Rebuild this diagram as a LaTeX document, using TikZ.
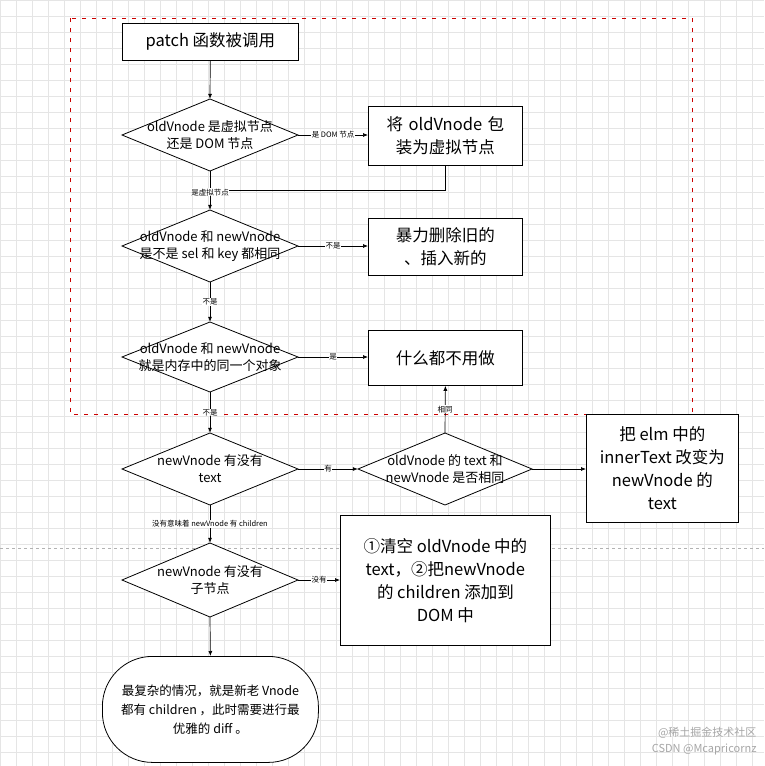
\documentclass[tikz,border=0pt]{standalone}
\usepackage{fontspec}
\setmainfont{Noto Sans CJK SC}
\usetikzlibrary{shapes.geometric,arrows.meta}
\begin{document}
\begin{tikzpicture}[x=1pt,y=-1pt,
 box/.style={draw,line width=0.8pt,fill=white,align=center,inner sep=2pt,font=\fontsize{16.5}{23}\selectfont},
 dia/.style={rectangle,inner sep=0pt,align=center,font=\fontsize{13}{17}\selectfont,
   append after command={\pgfextra{\draw[line width=0.8pt,fill=white] (\tikzlastnode.north)--(\tikzlastnode.east)--(\tikzlastnode.south)--(\tikzlastnode.west)--cycle;}}},
 lab/.style={fill=white,inner sep=0.5pt,font=\fontsize{7.5}{8}\selectfont},
 arr/.style={-{Latex[length=5pt,width=4pt]},line width=0.7pt}]
\useasboundingbox (0,0) rectangle (764,766);
\fill[white] (0,0) rectangle (764,766);
\foreach \i in {0,16,...,764} {\draw[black!10] (\i,0) -- (\i,766); \draw[black!10] (0,\i) -- (764,\i);}
\draw[gray!60,dashed] (0,548) -- (764,548);
\draw[red!80!black,line width=1pt,dash pattern=on 4pt off 6pt] (70,18) rectangle (692,414);
% diamonds (outline drawn first)
\foreach \x/\y/\w/\h in {210/135/176/72, 210/246/176/72, 210/357/176/70, 210/469/176/72, 445/469/174/72, 210/580/176/74}
  \draw[line width=0.8pt,fill=white] (\x,\y-\h/2) -- (\x+\w/2,\y) -- (\x,\y+\h/2) -- (\x-\w/2,\y) -- cycle;
\tikzset{dia/.style={rectangle,inner sep=0pt,align=center,font=\fontsize{13}{17}\selectfont}}
\node[box,minimum width=176,minimum height=37,anchor=north west] (p) at (122,23) {patch 函数被调用};
\node[dia,minimum width=176,minimum height=72] (d1) at (210,135) {oldVnode 是虚拟节点\\还是 DOM 节点};
\node[box,minimum width=154,minimum height=59,anchor=north west,text width=140] (b1) at (368,106) {将 oldVnode 包\\装为虚拟节点};
\node[dia,minimum width=176,minimum height=72] (d2) at (210,246) {oldVnode 和 newVnode\\是不是 sel 和 key 都相同};
\node[box,minimum width=154,minimum height=57,anchor=north west] (b2) at (368,218) {暴力删除旧的\\、插入新的};
\node[dia,minimum width=176,minimum height=70] (d3) at (210,357) {oldVnode 和 newVnode\\就是内存中的同一个对象};
\node[box,minimum width=154,minimum height=55,anchor=north west] (b3) at (368,330) {什么都不用做};
\node[dia,minimum width=176,minimum height=72] (d4) at (210,469) {newVnode 有没有\\text};
\node[dia,minimum width=174,minimum height=72] (d5) at (445,469) {oldVnode 的 text 和\\newVnode 是否相同};
\node[box,minimum width=152,minimum height=108,anchor=north west] (b4) at (586,414) {把 elm 中的\\innerText 改变为\\newVnode 的\\text};
\node[dia,minimum width=176,minimum height=74] (d6) at (210,580) {newVnode 有没有\\子节点};
\node[box,minimum width=210,minimum height=130,anchor=north west] (b5) at (340,515) {①清空 oldVnode 中的\\text，②把newVnode\\的 children 添加到\\DOM 中};
\node[draw,line width=0.8pt,fill=white,rounded corners=50pt,minimum width=216,minimum height=106,anchor=north west,align=center,inner sep=1pt,font=\fontsize{12.5}{19}\selectfont] (t) at (102,656) {最复杂的情况，就是新老 Vnode\\都有 children ，此时需要进行最\\优雅的 diff 。};
% connectors
\draw[arr] (p) -- (d1.north);
\draw[arr] (d1.east) -- node[lab]{是 DOM 节点} (b1.west|-d1.east);
\coordinate (j) at (210,190);
\draw[line width=0.7pt] (b1.south) |- (j);
\draw[arr] (d1.south) -- node[lab,pos=0.55]{是虚拟节点} (d2.north);
\draw[arr] (d2.east) -- node[lab]{不是} (b2.west|-d2.east);
\draw[arr] (d2.south) -- node[lab]{不是} (d3.north);
\draw[arr] (d3.east) -- node[lab]{是} (b3.west|-d3.east);
\draw[arr] (d3.south) -- node[lab]{不是} (d4.north);
\draw[arr] (d4.east) -- node[lab]{有} (d5.west);
\draw[arr] (d5.north) -- node[lab,pos=0.5]{相同} (b3.south);
\draw[arr] (d5.east) -- (b4.west|-d5.east);
\draw[arr] (d4.south) -- node[lab]{没有意味着 newVnode 有 children} (d6.north);
\draw[arr] (d6.east) -- node[lab]{没有} (b5.west|-d6.east);
\draw[arr] (d6.south) -- (t.north);
\node[gray!70,font=\fontsize{11}{12}\selectfont,anchor=east] (w1) at (760,733) {@稀土掘金技术社区};
\node[gray!70,font=\fontsize{11}{12}\selectfont,anchor=east] (w2) at (760,749) {CSDN @Mcapricornz};
\end{tikzpicture}
\end{document}
